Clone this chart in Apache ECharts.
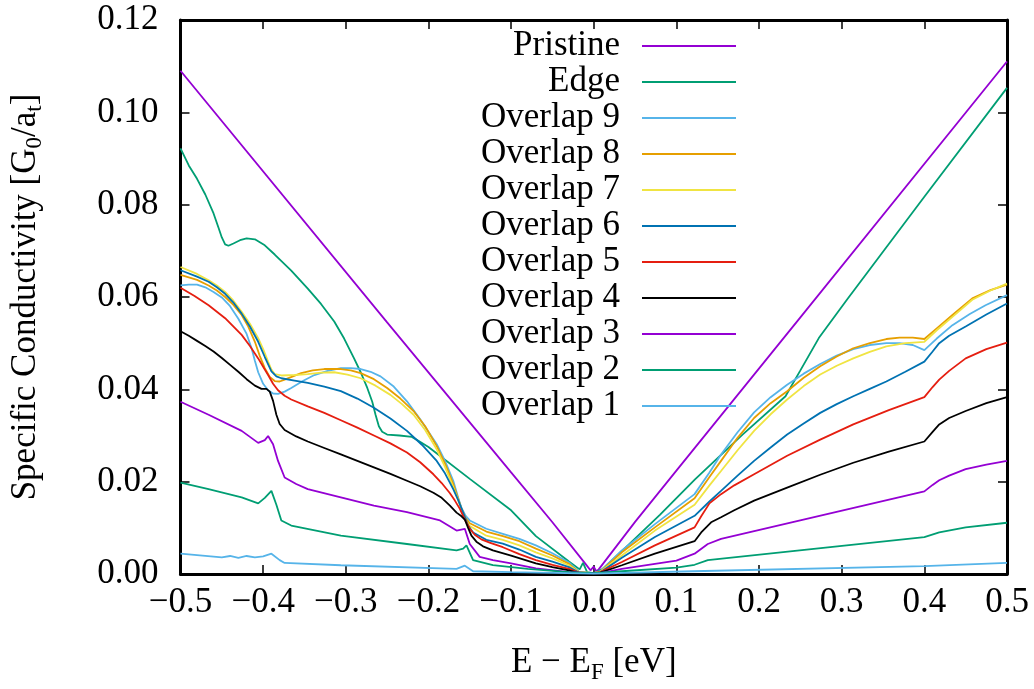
<!DOCTYPE html>
<html><head><meta charset="utf-8">
<script src="https://cdn.jsdelivr.net/npm/echarts@6/dist/echarts.min.js"></script>
<style>html,body{margin:0;padding:0;background:#fff}#c{width:1034px;height:689px}</style>
</head><body><div id="c"></div>
<script>
const seriesNames = ['Pristine','Edge','Overlap 9','Overlap 8','Overlap 7','Overlap 6','Overlap 5','Overlap 4','Overlap 3','Overlap 2','Overlap 1'];
const seriesColors = ['#9400d3','#009e73','#56b4e9','#e69f00','#f0e442','#0072b2','#e51e10','#000000','#9400d3','#009e73','#56b4e9'];

const pristine = [[-0.5,0.1090],[-0.25,0.0545],[-0.1,0.0220],[-0.05,0.0112],[-0.01,0.0022],[-0.004,0.0008],[0,0.0016],[0.003,0.0006],[0.006,0.0010],[0.05,0.0113],[0.1,0.0224],[0.25,0.0556],[0.5,0.1110]];
const edge = [[-0.5,0.0922],[-0.49,0.0885],[-0.48,0.0856],[-0.47,0.0822],[-0.46,0.0781],[-0.454,0.0750],[-0.45,0.0729],[-0.446,0.0714],[-0.442,0.0711],[-0.436,0.0716],[-0.428,0.0723],[-0.42,0.0727],[-0.41,0.0725],[-0.398,0.0712],[-0.386,0.0692],[-0.366,0.0657],[-0.346,0.0618],[-0.33,0.0585],[-0.314,0.0547],[-0.302,0.0510],[-0.29,0.0467],[-0.282,0.0437],[-0.274,0.0403],[-0.268,0.0373],[-0.264,0.0345],[-0.26,0.0320],[-0.256,0.0308],[-0.25,0.0302],[-0.235,0.0300],[-0.22,0.0297],[-0.2,0.0275],[-0.15,0.0206],[-0.1,0.0138],[-0.07,0.0082],[-0.03,0.0027],[-0.017,0.0010],[-0.013,0.0024],[-0.008,0.0004],[0,0.0002],[0.01,0.0010],[0.035,0.0051],[0.08,0.0128],[0.1225,0.0205],[0.18,0.0302],[0.232,0.0385],[0.25,0.0441],[0.2723,0.0511],[0.3063,0.0594],[0.4,0.0817],[0.5,0.1053]];
const overlap9 = [[-0.5,0.0625],[-0.49,0.0627],[-0.48,0.0627],[-0.47,0.0621],[-0.46,0.0611],[-0.45,0.0599],[-0.44,0.0580],[-0.43,0.0553],[-0.42,0.0520],[-0.414,0.0489],[-0.41,0.0462],[-0.406,0.0437],[-0.40,0.0412],[-0.394,0.0398],[-0.388,0.0391],[-0.382,0.0390],[-0.374,0.0395],[-0.366,0.0403],[-0.352,0.0418],[-0.338,0.0431],[-0.322,0.0440],[-0.306,0.0446],[-0.294,0.0446],[-0.282,0.0444],[-0.27,0.0438],[-0.258,0.0428],[-0.242,0.0406],[-0.226,0.0374],[-0.21,0.0335],[-0.19,0.0281],[-0.18,0.0245],[-0.17,0.0202],[-0.164,0.0165],[-0.16,0.0143],[-0.155,0.0126],[-0.15,0.0116],[-0.13,0.0098],[-0.11,0.0087],[-0.09,0.0076],[-0.07,0.0062],[-0.05,0.0045],[-0.03,0.0025],[-0.018,0.0005],[0,0.0002],[0.008,0.0006],[0.034,0.0051],[0.074,0.0108],[0.122,0.0173],[0.14,0.0220],[0.154,0.0259],[0.174,0.0307],[0.194,0.0350],[0.214,0.0383],[0.234,0.0410],[0.254,0.0434],[0.274,0.0455],[0.294,0.0473],[0.314,0.0487],[0.334,0.0496],[0.354,0.0500],[0.37,0.0500],[0.386,0.0496],[0.4,0.0485],[0.415,0.0510],[0.434,0.0539],[0.455,0.0563],[0.474,0.0582],[0.5,0.0604]];
const overlap8 = [[-0.5,0.0648],[-0.48,0.0637],[-0.466,0.0625],[-0.456,0.0614],[-0.446,0.0600],[-0.436,0.0583],[-0.426,0.0561],[-0.418,0.0536],[-0.41,0.0503],[-0.404,0.0472],[-0.398,0.0446],[-0.392,0.0427],[-0.386,0.0418],[-0.38,0.0417],[-0.374,0.0421],[-0.364,0.0428],[-0.354,0.0435],[-0.34,0.0441],[-0.326,0.0444],[-0.306,0.0444],[-0.294,0.0441],[-0.282,0.0435],[-0.266,0.0422],[-0.25,0.0403],[-0.234,0.0380],[-0.218,0.0353],[-0.204,0.0320],[-0.19,0.0277],[-0.18,0.0239],[-0.17,0.0195],[-0.164,0.0163],[-0.16,0.0141],[-0.155,0.0121],[-0.15,0.0110],[-0.13,0.0092],[-0.11,0.0082],[-0.09,0.0071],[-0.07,0.0055],[-0.05,0.0040],[-0.03,0.0022],[-0.018,0.0004],[0,0.0002],[0.008,0.0005],[0.034,0.0047],[0.074,0.0101],[0.122,0.0164],[0.14,0.0210],[0.154,0.0245],[0.174,0.0295],[0.194,0.0338],[0.214,0.0370],[0.234,0.0396],[0.254,0.0425],[0.274,0.0450],[0.294,0.0471],[0.314,0.0489],[0.334,0.0500],[0.354,0.0509],[0.37,0.0512],[0.386,0.0512],[0.4,0.0509],[0.415,0.0532],[0.434,0.0561],[0.458,0.0597],[0.48,0.0615],[0.5,0.0627]];
const overlap7 = [[-0.5,0.0665],[-0.48,0.0650],[-0.466,0.0636],[-0.456,0.0625],[-0.446,0.0611],[-0.436,0.0592],[-0.426,0.0568],[-0.416,0.0542],[-0.406,0.0511],[-0.4,0.0487],[-0.394,0.0460],[-0.39,0.0443],[-0.386,0.0433],[-0.378,0.0430],[-0.362,0.0431],[-0.346,0.0433],[-0.33,0.0436],[-0.314,0.0437],[-0.298,0.0432],[-0.282,0.0424],[-0.264,0.0408],[-0.246,0.0388],[-0.232,0.0368],[-0.218,0.0345],[-0.204,0.0312],[-0.19,0.0270],[-0.18,0.0232],[-0.17,0.0188],[-0.164,0.0160],[-0.16,0.0140],[-0.155,0.0117],[-0.15,0.0104],[-0.13,0.0083],[-0.11,0.0074],[-0.09,0.0062],[-0.07,0.0047],[-0.05,0.0034],[-0.03,0.0019],[-0.018,0.0004],[0,0.0002],[0.008,0.0005],[0.034,0.0040],[0.074,0.0094],[0.122,0.0150],[0.14,0.0192],[0.154,0.0223],[0.174,0.0268],[0.194,0.0310],[0.214,0.0346],[0.234,0.0378],[0.254,0.0407],[0.274,0.0432],[0.294,0.0451],[0.314,0.0467],[0.334,0.0481],[0.354,0.0493],[0.377,0.0500],[0.4,0.0503],[0.415,0.0528],[0.434,0.0557],[0.458,0.0594],[0.48,0.0614],[0.5,0.0629]];
const overlap6 = [[-0.5,0.0658],[-0.48,0.0644],[-0.466,0.0633],[-0.456,0.0621],[-0.446,0.0607],[-0.436,0.0588],[-0.426,0.0564],[-0.416,0.0536],[-0.406,0.0503],[-0.398,0.0470],[-0.39,0.0439],[-0.384,0.0428],[-0.378,0.0424],[-0.362,0.0419],[-0.346,0.0414],[-0.326,0.0406],[-0.306,0.0396],[-0.286,0.0380],[-0.266,0.0360],[-0.246,0.0337],[-0.226,0.0310],[-0.208,0.0280],[-0.19,0.0245],[-0.18,0.0218],[-0.17,0.0184],[-0.164,0.0160],[-0.158,0.0133],[-0.152,0.0105],[-0.146,0.0090],[-0.13,0.0074],[-0.11,0.0066],[-0.09,0.0053],[-0.07,0.0037],[-0.05,0.0027],[-0.03,0.0015],[-0.018,0.0003],[0,0.0002],[0.008,0.0004],[0.034,0.0035],[0.074,0.0080],[0.122,0.0126],[0.14,0.0157],[0.154,0.0180],[0.174,0.0213],[0.194,0.0245],[0.214,0.0274],[0.234,0.0302],[0.254,0.0326],[0.274,0.0349],[0.294,0.0368],[0.314,0.0385],[0.334,0.0401],[0.354,0.0417],[0.377,0.0438],[0.4,0.0460],[0.41,0.0482],[0.418,0.0500],[0.43,0.0516],[0.45,0.0536],[0.475,0.0562],[0.5,0.0586]];
const overlap5 = [[-0.5,0.0620],[-0.483,0.0602],[-0.466,0.0582],[-0.446,0.0554],[-0.426,0.0518],[-0.416,0.0494],[-0.406,0.0467],[-0.4,0.0449],[-0.394,0.0431],[-0.388,0.0412],[-0.382,0.0398],[-0.374,0.0386],[-0.366,0.0378],[-0.346,0.0363],[-0.326,0.0349],[-0.306,0.0333],[-0.286,0.0317],[-0.266,0.0300],[-0.246,0.0283],[-0.226,0.0263],[-0.21,0.0242],[-0.194,0.0216],[-0.184,0.0197],[-0.174,0.0175],[-0.168,0.0159],[-0.162,0.0141],[-0.156,0.0118],[-0.15,0.0098],[-0.144,0.0085],[-0.136,0.0075],[-0.126,0.0068],[-0.11,0.0058],[-0.09,0.0043],[-0.07,0.0030],[-0.05,0.0020],[-0.03,0.0011],[-0.018,0.0003],[0,0.0002],[0.008,0.0004],[0.034,0.0026],[0.074,0.0062],[0.122,0.0101],[0.13,0.0125],[0.14,0.0153],[0.154,0.0173],[0.17,0.0192],[0.194,0.0216],[0.234,0.0256],[0.274,0.0291],[0.314,0.0324],[0.357,0.0355],[0.4,0.0383],[0.41,0.0405],[0.418,0.0421],[0.43,0.0440],[0.45,0.0467],[0.475,0.0487],[0.5,0.0501]];
const overlap4 = [[-0.5,0.0526],[-0.49,0.0516],[-0.48,0.0505],[-0.47,0.0494],[-0.46,0.0482],[-0.45,0.0468],[-0.44,0.0453],[-0.43,0.0438],[-0.42,0.0422],[-0.41,0.0408],[-0.402,0.0401],[-0.396,0.0401],[-0.392,0.0395],[-0.388,0.0375],[-0.384,0.0345],[-0.38,0.0325],[-0.374,0.0312],[-0.36,0.0298],[-0.346,0.0287],[-0.326,0.0273],[-0.306,0.0259],[-0.286,0.0245],[-0.266,0.0231],[-0.246,0.0217],[-0.226,0.0202],[-0.21,0.0190],[-0.194,0.0176],[-0.184,0.0165],[-0.174,0.0148],[-0.166,0.0133],[-0.16,0.0125],[-0.156,0.0118],[-0.152,0.0100],[-0.148,0.0083],[-0.142,0.0070],[-0.134,0.0060],[-0.122,0.0051],[-0.1,0.0040],[-0.07,0.0023],[-0.05,0.0015],[-0.03,0.0008],[-0.018,0.0002],[0,0.0002],[0.008,0.0003],[0.034,0.0019],[0.074,0.0044],[0.122,0.0071],[0.13,0.0090],[0.142,0.0112],[0.154,0.0123],[0.17,0.0138],[0.194,0.0159],[0.234,0.0187],[0.274,0.0215],[0.314,0.0241],[0.357,0.0265],[0.4,0.0287],[0.41,0.0308],[0.418,0.0324],[0.43,0.0338],[0.45,0.0353],[0.475,0.0370],[0.5,0.0383]];
const overlap3 = [[-0.5,0.0373],[-0.466,0.0345],[-0.426,0.0310],[-0.406,0.0284],[-0.398,0.0290],[-0.394,0.0299],[-0.388,0.0281],[-0.382,0.0245],[-0.374,0.0209],[-0.36,0.0195],[-0.346,0.0184],[-0.306,0.0166],[-0.266,0.0148],[-0.226,0.0134],[-0.186,0.0116],[-0.166,0.0094],[-0.156,0.0098],[-0.15,0.0065],[-0.138,0.0037],[-0.122,0.0030],[-0.1,0.0023],[-0.07,0.0012],[-0.03,0.0004],[0,0.0002],[0.008,0.0002],[0.034,0.0011],[0.1,0.0029],[0.122,0.0044],[0.138,0.0065],[0.154,0.0076],[0.4,0.0179],[0.41,0.0193],[0.418,0.0203],[0.43,0.0213],[0.45,0.0227],[0.475,0.0237],[0.5,0.0245]];
const overlap2 = [[-0.5,0.0198],[-0.466,0.0184],[-0.426,0.0166],[-0.406,0.0153],[-0.398,0.0165],[-0.39,0.0180],[-0.384,0.0150],[-0.378,0.0116],[-0.366,0.0105],[-0.306,0.0083],[-0.226,0.0065],[-0.166,0.0051],[-0.158,0.0055],[-0.154,0.0062],[-0.146,0.0030],[-0.122,0.0019],[-0.08,0.0011],[-0.03,0.0004],[0,0.0002],[0.034,0.0006],[0.1,0.0014],[0.122,0.0020],[0.138,0.0030],[0.4,0.0080],[0.418,0.0090],[0.45,0.0101],[0.5,0.0111]];
const overlap1 = [[-0.5,0.0044],[-0.45,0.0036],[-0.44,0.0039],[-0.43,0.0035],[-0.42,0.0039],[-0.41,0.0036],[-0.40,0.0038],[-0.39,0.0044],[-0.38,0.0030],[-0.374,0.0024],[-0.306,0.0019],[-0.166,0.0011],[-0.156,0.0018],[-0.146,0.0006],[-0.1,0.0004],[0,0.0001],[0.12,0.0006],[0.4,0.0017],[0.5,0.0024]];
const seriesData = [pristine, edge, overlap9, overlap8, overlap7, overlap6, overlap5, overlap4, overlap3, overlap2, overlap1];

const FONT = 'Liberation Serif';
const FS = 35;
const chart = echarts.init(document.getElementById('c'), null, {renderer: 'canvas'});
const tickStyle = {show: true, inside: true, length: 9, lineStyle: {color: '#000', width: 1.5}};
const lineAx = {show: true, onZero: false, lineStyle: {color: '#000', width: 3}};
chart.setOption({
  backgroundColor: '#fff',
  animation: false,
  grid: {left: 176, right: 27, top: 20, bottom: 112, containLabel: false},
  legend: {
    orient: 'vertical', align: 'right', right: 298, top: 28, padding: 0,
    icon: 'rect', itemWidth: 94, itemHeight: 2, itemGap: 0,
    data: seriesNames,
    textStyle: {fontFamily: FONT, fontSize: FS, color: '#000', lineHeight: 36, padding: [0, 17, 0, 0]}
  },
  xAxis: [{
    type: 'value', min: -0.5, max: 0.5, interval: 0.1,
    axisLine: lineAx, axisTick: tickStyle, splitLine: {show: false},
    axisLabel: {fontFamily: FONT, fontSize: FS, color: '#000', margin: 11,
      formatter: v => (v < -1e-9 ? '\u2212' : '') + Math.abs(v).toFixed(1)},
    name: '{a|E \u2212 E}{b|F}{a| [eV]}', nameLocation: 'middle', nameGap: 68,
    nameTextStyle: {rich: {a: {fontFamily: FONT, fontSize: FS, color: '#000', lineHeight: 42},
                           b: {fontFamily: FONT, fontSize: 23, color: '#000', lineHeight: 23, verticalAlign: 'bottom'}}}
  }, {
    type: 'value', min: -0.5, max: 0.5, interval: 0.1, position: 'top',
    axisLine: lineAx, axisTick: tickStyle, axisLabel: {show: false}, splitLine: {show: false}
  }],
  yAxis: [{
    type: 'value', min: 0, max: 0.12, interval: 0.02,
    axisLine: lineAx, axisTick: tickStyle, splitLine: {show: false},
    axisLabel: {fontFamily: FONT, fontSize: FS, color: '#000', margin: 22, formatter: v => v.toFixed(2)},
    name: '{a|Specific Conductivity [G}{b|0}{a|/a}{b|t}{a|]}', nameLocation: 'middle', nameGap: 134, nameRotate: 90,
    nameTextStyle: {rich: {a: {fontFamily: FONT, fontSize: FS, color: '#000', lineHeight: 42},
                           b: {fontFamily: FONT, fontSize: 23, color: '#000', lineHeight: 23, verticalAlign: 'bottom'}}}
  }, {
    type: 'value', min: 0, max: 0.12, interval: 0.02, position: 'right',
    axisLine: lineAx, axisTick: tickStyle, axisLabel: {show: false}, splitLine: {show: false}
  }],
  series: seriesNames.map((n, i) => ({
    name: n, type: 'line', data: seriesData[i], xAxisIndex: 0, yAxisIndex: 0,
    symbol: 'none', showSymbol: false, smooth: false,
    lineStyle: {color: seriesColors[i], width: 1.8}, itemStyle: {color: seriesColors[i]},
    emphasis: {disabled: true}
  }))
});
</script></body></html>
